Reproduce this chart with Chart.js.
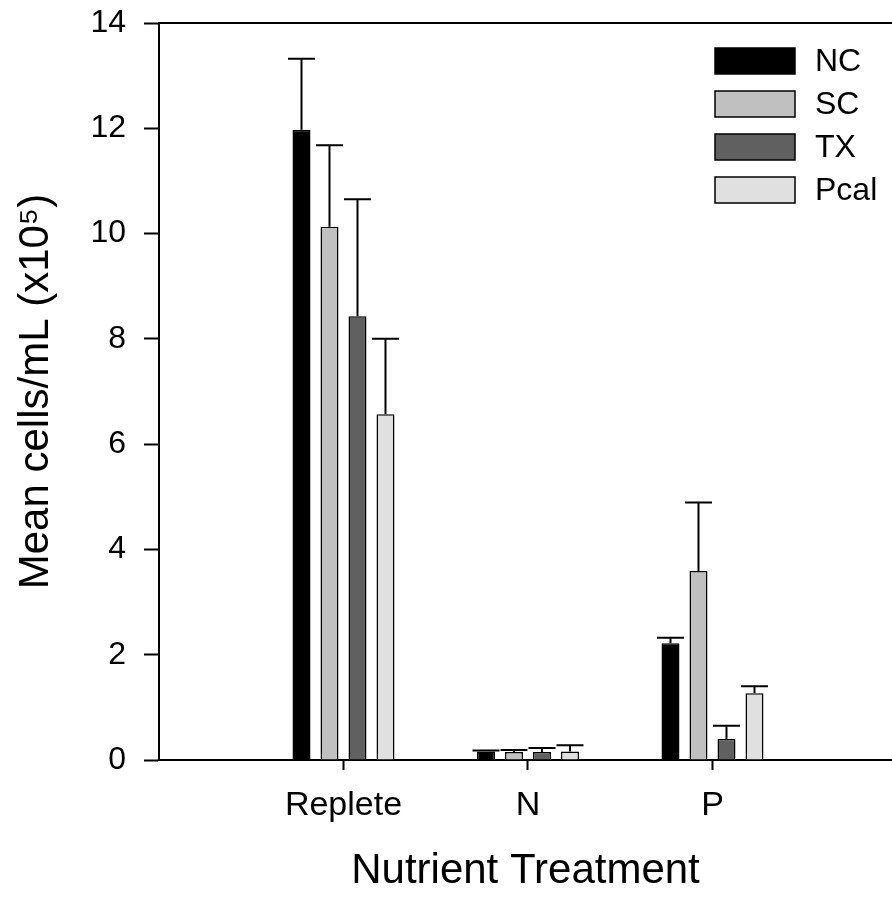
<!DOCTYPE html>
<html>
<head>
<meta charset="utf-8">
<script src="https://cdn.jsdelivr.net/npm/chart.js@4/dist/chart.umd.min.js"></script>
<style>
  html, body { margin: 0; padding: 0; background: #fff; overflow: hidden; }
  #wrap { width: 892px; height: 898px; position: relative; }
</style>
</head>
<body>
<div id="wrap"><canvas id="cellChart"></canvas></div>
<script>
// treatments on a numeric x axis (1, 2, 3)
var treatments = ['Replete', 'N', 'P'];
var treatPos = [1, 2, 3];
var strains = ['NC', 'SC', 'TX', 'Pcal'];
var strainColors = ['#000000', '#c0c0c0', '#606060', '#e0e0e0'];

// mean cells/mL (x10^5), one array per strain, order = treatments
var ncMean   = [11.97, 0.16, 2.22];
var scMean   = [10.13, 0.15, 3.59];
var txMean   = [8.43, 0.15, 0.40];
var pcalMean = [6.57, 0.16, 1.27];

// standard error (upper whisker only)
var ncErr   = [1.35, 0.02, 0.10];
var scErr   = [1.55, 0.04, 1.30];
var txErr   = [2.22, 0.08, 0.25];
var pcalErr = [1.43, 0.12, 0.13];

var yTicks = [0, 2, 4, 6, 8, 10, 12, 14];

var means = [ncMean, scMean, txMean, pcalMean];
var errs = [ncErr, scErr, txErr, pcalErr];

var fontFam = '"Liberation Sans", Arial, Helvetica, sans-serif';

var datasets = [];
for (var i = 0; i < strains.length; i++) {
	var pts = [];
	for (var j = 0; j < treatments.length; j++) {
		pts.push({ x: treatPos[j], y: means[i][j] });
	}
	datasets.push({
		label: strains[i],
		data: pts,
		err: errs[i],
		backgroundColor: strainColors[i],
		borderColor: '#000',
		borderWidth: 1.5,
		categoryPercentage: 0.607,
		barPercentage: 0.643
	});
}

// whiskers on top of every bar
const errorBars = {
	id: 'errorBars',
	afterDatasetsDraw(chart) {
		const ctx = chart.ctx;
		const ys = chart.scales.y;
		ctx.save();
		ctx.strokeStyle = '#000';
		ctx.lineWidth = 2;
		chart.data.datasets.forEach(function (ds, di) {
			const meta = chart.getDatasetMeta(di);
			meta.data.forEach(function (bar, k) {
				const top = ys.getPixelForValue(ds.data[k].y + ds.err[k]);
				ctx.beginPath();
				ctx.moveTo(bar.x, bar.y);
				ctx.lineTo(bar.x, top);
				ctx.moveTo(bar.x - 13.5, top);
				ctx.lineTo(bar.x + 13.5, top);
				ctx.stroke();
			});
		});
		ctx.restore();
	}
};

// top frame line + legend inside the plot
const frameLegend = {
	id: 'frameLegend',
	afterDraw(chart) {
		const ctx = chart.ctx;
		const a = chart.chartArea;
		ctx.save();
		ctx.strokeStyle = '#000';
		ctx.lineWidth = 2;
		ctx.beginPath();
		ctx.moveTo(a.left, a.top);
		ctx.lineTo(a.right, a.top);
		ctx.stroke();

		const lx = a.right - 177;
		const ly = a.top + 25;
		ctx.font = '32px ' + fontFam;
		ctx.textBaseline = 'middle';
		ctx.textAlign = 'left';
		ctx.lineWidth = 1.5;
		chart.data.datasets.forEach(function (ds, i) {
			const y = ly + i * 43;
			ctx.fillStyle = ds.backgroundColor;
			ctx.fillRect(lx, y, 80, 26);
			ctx.strokeRect(lx, y, 80, 26);
			ctx.fillStyle = '#000';
			ctx.fillText(ds.label, lx + 100, y + 14);
		});
		ctx.restore();
	}
};

const config = {
	type: 'bar',
	data: { datasets: datasets },
	options: {
		responsive: true,
		maintainAspectRatio: false,
		animation: false,
		layout: { padding: { top: 23, left: 0, right: 0, bottom: 0 } },
		plugins: {
			legend: { display: false },
			tooltip: { enabled: false }
		},
		scales: {
			x: {
				type: 'linear',
				min: 0,
				max: 3.973,
				offset: false,
				afterFit: function (s) { s.height = 138; s.paddingLeft = 0; s.paddingRight = 0; },
				afterBuildTicks: function (s) {
					s.ticks = [0].concat(treatPos).map(function (v) { return { value: v }; });
				},
				ticks: {
					includeBounds: false,
					stepSize: 1,
					padding: 15,
					color: '#000',
					font: { family: fontFam, size: 34 },
					callback: function (v) {
						var k = treatPos.indexOf(v);
						return k >= 0 ? treatments[k] : '';
					}
				},
				grid: {
					offset: false,
					drawOnChartArea: false,
					tickLength: 10,
					tickWidth: 2,
					tickColor: function (c) { return c.tick && c.tick.value === 0 ? 'rgba(0,0,0,0)' : '#000'; }
				},
				border: { color: '#000', width: 2 },
				title: {
					display: true,
					text: 'Nutrient Treatment',
					color: '#000',
					font: { family: fontFam, size: 42 },
					padding: { top: 0, bottom: 1 }
				}
			},
			y: {
				min: 0,
				max: 14,
				afterFit: function (s) { s.width = 159; s.paddingTop = 0; s.paddingBottom = 0; },
				afterBuildTicks: function (s) {
					s.ticks = yTicks.map(function (v) { return { value: v }; });
				},
				ticks: {
					padding: 18,
					color: '#000',
					font: { family: fontFam, size: 32 }
				},
				grid: {
					drawOnChartArea: false,
					tickLength: 15,
					tickWidth: 2,
					tickColor: '#000'
				},
				border: { color: '#000', width: 2 },
				title: {
					display: true,
					text: 'Mean cells/mL (x10\u2075)',
					color: '#000',
					font: { family: fontFam, size: 42 },
					padding: { top: 11, bottom: 0 }
				}
			}
		}
	},
	plugins: [errorBars, frameLegend]
};

const cellChart = new Chart(
	document.getElementById('cellChart').getContext('2d'),
	config
);
</script>
</body>
</html>
